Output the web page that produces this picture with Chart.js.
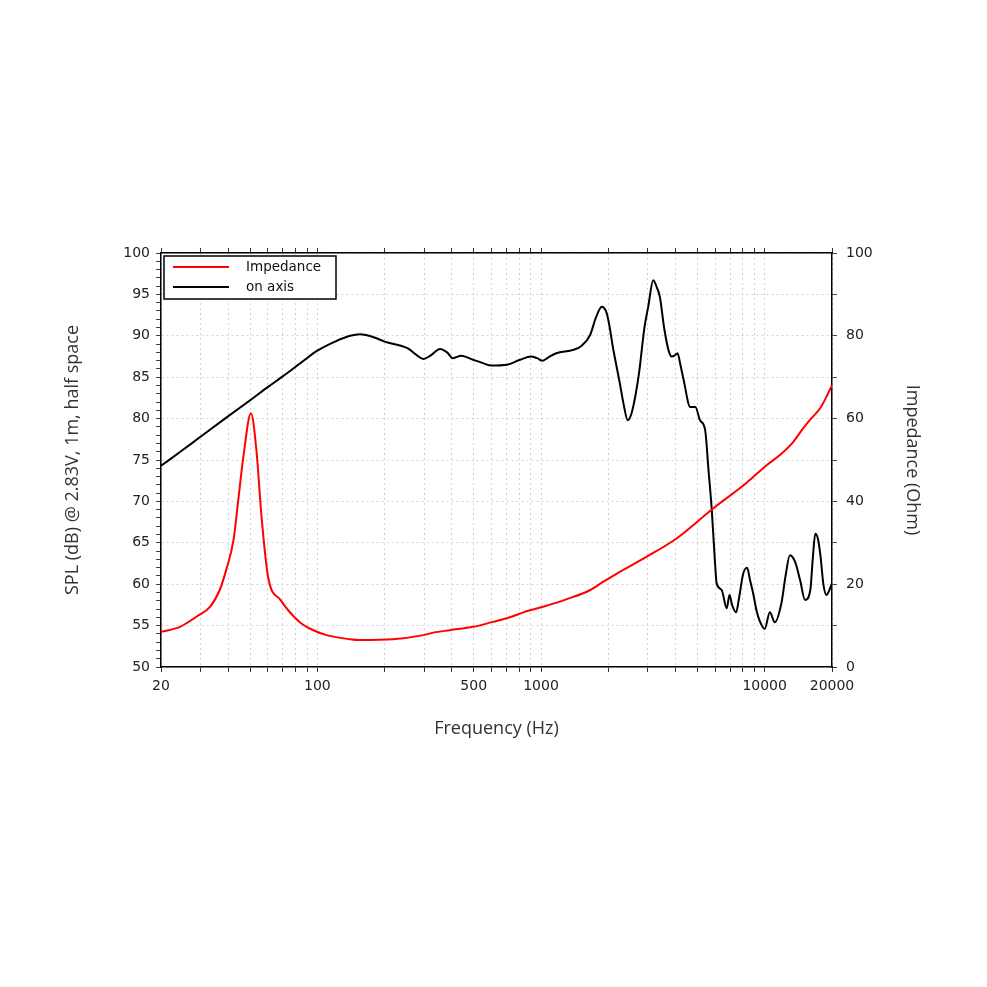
<!DOCTYPE html>
<html>
<head>
<meta charset="utf-8">
<title>SPL / Impedance</title>
<script src="https://cdn.jsdelivr.net/npm/chart.js@4/dist/chart.umd.min.js"></script>
<style>
  html, body { margin: 0; padding: 0; background: #fff; }
  #wrap { position: absolute; left: 0; top: 0; width: 987px; height: 987px; }
</style>
</head>
<body>
<div id="wrap"><canvas id="freqChart"></canvas></div>
<script>
// SPL on axis (dB)
const splFreq = [20, 25, 30, 40, 50, 60, 70, 85, 100, 120, 140, 155, 165, 180, 200, 253, 280, 298, 320, 354, 380, 404, 440, 497, 550, 600, 704, 806, 903, 960, 1016, 1080, 1170, 1394, 1520, 1658, 1760, 1870, 1950, 2000, 2100, 2250, 2350, 2440, 2550, 2740, 2900, 3015, 3176, 3300, 3400, 3550, 3712, 3840, 3950, 4078, 4200, 4340, 4650, 4900, 5140, 5420, 5600, 5800, 6000, 6100, 6420, 6770, 6960, 7150, 7450, 7700, 8020, 8350, 8600, 8880, 9200, 9520, 10000, 10550, 11100, 11880, 12400, 12960, 13680, 14400, 15150, 16000, 16400, 16840, 17300, 17770, 18300, 18870, 19400, 20000];
const splValues = [74.3, 76.2, 77.8, 80.3, 82.2, 83.8, 85.1, 86.8, 88.2, 89.3, 90.0, 90.2, 90.1, 89.8, 89.3, 88.5, 87.6, 87.2, 87.6, 88.4, 88.0, 87.3, 87.6, 87.1, 86.7, 86.4, 86.5, 87.1, 87.5, 87.3, 87.0, 87.4, 87.9, 88.3, 88.8, 90.1, 92.2, 93.5, 93.0, 91.9, 88.5, 84.3, 81.5, 79.8, 80.8, 85.4, 91.0, 93.5, 96.7, 95.8, 94.7, 91.0, 88.3, 87.5, 87.6, 87.9, 86.5, 84.7, 81.4, 81.4, 79.8, 78.6, 74.0, 69.0, 62.5, 60.1, 59.3, 57.1, 58.7, 57.5, 56.6, 58.5, 61.3, 62.0, 60.5, 58.9, 56.8, 55.5, 54.6, 56.6, 55.4, 57.7, 61.0, 63.5, 62.7, 60.5, 58.1, 59.3, 63.0, 66.1, 65.5, 63.4, 60.0, 58.7, 59.2, 60.1];

// Impedance (Ohm)
const impFreq = [20, 24.3, 28.9, 33.2, 36.6, 39.1, 42.2, 44.3, 46.7, 50.5, 53.4, 56.3, 60.2, 68.4, 83, 95, 110, 140, 155, 218, 298, 330, 392, 497, 609, 726, 835, 1030, 1305, 1660, 1900, 2250, 2960, 4050, 5880, 8260, 8760, 10240, 11700, 13440, 14880, 16200, 17700, 18900, 20000];
const impValues = [8.5, 9.7, 12.2, 14.6, 18.6, 23.4, 30.7, 40.3, 50.8, 61.3, 52.4, 36.3, 21.8, 16.2, 10.9, 9.0, 7.7, 6.7, 6.5, 6.7, 7.7, 8.3, 8.9, 9.7, 10.9, 12.0, 13.2, 14.6, 16.4, 18.6, 20.6, 23.0, 26.6, 31.1, 38.3, 44.4, 45.6, 48.8, 51.2, 54.4, 57.7, 60.1, 62.5, 65.3, 68.1];

// axis ticks
const freqTicks = [20, 30, 40, 50, 60, 70, 80, 90, 100, 200, 300, 400, 500, 600, 700, 800, 900, 1000, 2000, 3000, 4000, 5000, 6000, 7000, 8000, 9000, 10000, 20000];
const freqLabels = [20, 100, 500, 1000, 10000, 20000];
const splLabels = [50, 55, 60, 65, 70, 75, 80, 85, 90, 95, 100];
const ohmLabels = [0, 20, 40, 60, 80, 100];

const seriesNames = ["Impedance", "on axis"];
const seriesColors = ["#ff0000", "#000000"];

const tickFont = { family: "'DejaVu Sans', sans-serif", size: 14 };
const titleFont = { family: "'Open Sans', sans-serif", size: 18 };
const gridGrey = "#d2d2d2";

function toPoints(xs, ys) {
  return xs.map((x, i) => ({ x: x, y: ys[i] }));
}

// legend box drawn inside the plot, top left
const boxLegend = {
  id: "boxLegend",
  afterDraw(chart) {
    const ctx = chart.ctx;
    const area = chart.chartArea;
    const x0 = area.left + 3, y0 = area.top + 3;
    ctx.save();
    ctx.fillStyle = "#fff";
    ctx.fillRect(x0, y0, 172, 43);
    ctx.strokeStyle = "#000";
    ctx.lineWidth = 1.5;
    ctx.strokeRect(x0, y0, 172, 43);
    ctx.font = "13.5px 'DejaVu Sans', sans-serif";
    ctx.textBaseline = "middle";
    seriesNames.forEach((name, i) => {
      const y = y0 + 11 + i * 20;
      ctx.strokeStyle = seriesColors[i];
      ctx.lineWidth = 2;
      ctx.beginPath();
      ctx.moveTo(x0 + 9, y);
      ctx.lineTo(x0 + 65, y);
      ctx.stroke();
      ctx.fillStyle = "#111";
      ctx.fillText(name, x0 + 82, y);
    });
    ctx.restore();
  }
};

new Chart(document.getElementById("freqChart"), {
  type: "line",
  data: {
    datasets: [
      {
        label: seriesNames[0],
        data: toPoints(impFreq, impValues),
        yAxisID: "yOhm",
        borderColor: seriesColors[0],
        borderWidth: 2,
        pointRadius: 0,
        cubicInterpolationMode: "monotone",
        fill: false
      },
      {
        label: seriesNames[1],
        data: toPoints(splFreq, splValues),
        yAxisID: "ySpl",
        borderColor: seriesColors[1],
        borderWidth: 2,
        pointRadius: 0,
        cubicInterpolationMode: "monotone",
        fill: false
      }
    ]
  },
  options: {
    responsive: true,
    maintainAspectRatio: false,
    animation: false,
    layout: { padding: { left: 58, right: 60, top: 247, bottom: 243 } },
    plugins: {
      legend: { display: false },
      tooltip: { enabled: false }
    },
    scales: {
      x: {
        type: "logarithmic",
        position: "bottom",
        min: 20,
        max: 20000,
        afterBuildTicks: (scale) => { scale.ticks = freqTicks.map(v => ({ value: v })); },
        afterFit: (scale) => { scale.height = 77; },
        ticks: {
          autoSkip: false,
          maxRotation: 0,
          padding: 6,
          color: "#222",
          font: tickFont,
          callback: (value) => freqLabels.includes(value) ? String(value) : ""
        },
        grid: { color: gridGrey, tickColor: "#333", tickLength: 5 },
        border: { color: "#000", width: 1.5, dash: [2, 3] },
        title: { display: true, text: "Frequency (Hz)", color: "#333", font: titleFont }
      },
      xTop: {
        type: "logarithmic",
        position: "top",
        min: 20,
        max: 20000,
        afterBuildTicks: (scale) => { scale.ticks = freqTicks.map(v => ({ value: v })); },
        afterFit: (scale) => { scale.height = 6; },
        ticks: { display: false },
        grid: { drawOnChartArea: false, tickColor: "#333", tickLength: 5 },
        border: { color: "#000", width: 1.5 }
      },
      ySpl: {
        type: "linear",
        position: "left",
        min: 50,
        max: 100,
        afterFit: (scale) => { scale.width = 103; },
        ticks: {
          stepSize: 1,
          autoSkip: false,
          padding: 6,
          color: "#222",
          font: tickFont,
          callback: (value) => splLabels.includes(value) ? String(value) : ""
        },
        grid: {
          color: (ctx) => (ctx.tick && ctx.tick.value % 5 === 0) ? gridGrey : "rgba(0,0,0,0)",
          tickColor: "#444",
          tickLength: 5
        },
        border: { color: "#000", width: 1.5, dash: [2, 3] },
        title: { display: true, text: "SPL (dB) @ 2.83V, 1m, half space", color: "#333", font: titleFont }
      },
      yOhm: {
        type: "linear",
        position: "right",
        min: 0,
        max: 100,
        afterFit: (scale) => { scale.width = 95; },
        ticks: {
          stepSize: 10,
          autoSkip: false,
          padding: 9,
          color: "#222",
          font: tickFont,
          callback: (value) => ohmLabels.includes(value) ? String(value) : ""
        },
        grid: { drawOnChartArea: false, tickColor: "#444", tickLength: 5 },
        border: { color: "#000", width: 1.5 },
        title: { display: true, text: "Impedance (Ohm)", color: "#333", font: titleFont }
      }
    }
  },
  plugins: [boxLegend]
});
</script>
</body>
</html>
